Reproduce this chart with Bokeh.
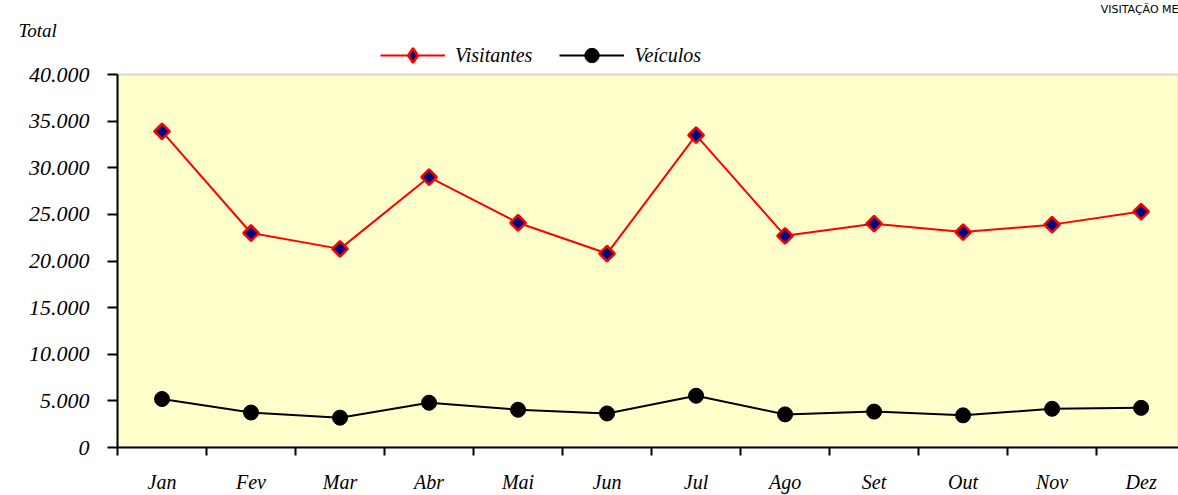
import math
from bokeh.plotting import figure
from bokeh.models import Range1d, FixedTicker, Legend, LegendItem, Title, ColumnDataSource, BoxAnnotation
from bokeh.embed import file_html
from bokeh.resources import INLINE

months = ["Jan", "Fev", "Mar", "Abr", "Mai", "Jun", "Jul", "Ago", "Set", "Out", "Nov", "Dez"]
visitantes = [33900, 23000, 21300, 29000, 24100, 20800, 33500, 22700, 24000, 23100, 23900, 25300]
veiculos = [5200, 3750, 3200, 4800, 4050, 3650, 5550, 3550, 3850, 3450, 4150, 4250]
y_ticks = [0, 5000, 10000, 15000, 20000, 25000, 30000, 35000, 40000]
y_tick_labels = ["0", "5.000", "10.000", "15.000", "20.000", "25.000", "30.000", "35.000", "40.000"]

idx = list(range(len(months)))
src = ColumnDataSource(dict(x=idx, vis=visitantes, vei=veiculos, m=months))

SERIF = "Liberation Serif"
TOP = 42          # frame top (px)
AX_BOTTOM = 447   # frame bottom (px)
Y40 = 74          # pixel row of the 40.000 line
y_end = y_ticks[-1] * (AX_BOTTOM - TOP) / (AX_BOTTOM - Y40)

p = figure(width=1178, height=495, output_backend="svg", toolbar_location=None,
           title_location=None,
           x_range=Range1d(-0.5, 11.42), y_range=Range1d(0, y_end),
           min_border_left=117, min_border_right=0, min_border_top=TOP, min_border_bottom=48)
p.background_fill_color = "white"
p.border_fill_color = "white"
p.outline_line_color = None

p.add_layout(BoxAnnotation(left=-0.5, bottom=y_ticks[0], top=y_ticks[-1],
                           fill_color="#FFFFCC", fill_alpha=1,
                           line_color="#808080", line_width=2, level="underlay"))

# y axis
p.yaxis.bounds = (y_ticks[0], y_ticks[-1])
p.yaxis.ticker = FixedTicker(ticks=y_ticks)
p.yaxis.major_label_overrides = {t: l for t, l in zip(y_ticks, y_tick_labels)}
p.yaxis.axis_line_color = "black"
p.yaxis.axis_line_width = 2
p.yaxis.major_tick_out = 10
p.yaxis.major_tick_in = 0
p.yaxis.major_tick_line_width = 2
p.yaxis.minor_tick_line_color = None
p.yaxis.major_label_standoff = 18
p.yaxis.major_label_text_font = SERIF
p.yaxis.major_label_text_font_style = "italic"
p.yaxis.major_label_text_font_size = "22px"
p.yaxis.major_label_text_color = "black"

# x axis
p.xaxis.ticker = FixedTicker(ticks=idx, minor_ticks=[i - 0.5 for i in range(len(months) + 1)])
p.xaxis.major_label_overrides = {i: m for i, m in zip(idx, months)}
p.xaxis.axis_line_color = "black"
p.xaxis.axis_line_width = 2
p.xaxis.major_tick_out = 0
p.xaxis.major_tick_in = 0
p.xaxis.minor_tick_out = 8
p.xaxis.minor_tick_in = 0
p.xaxis.minor_tick_line_width = 2
p.xaxis.minor_tick_line_color = "black"
p.xaxis.major_label_standoff = 15
p.xaxis.major_label_text_font = SERIF
p.xaxis.major_label_text_font_style = "italic"
p.xaxis.major_label_text_font_size = "20px"
p.xaxis.major_label_text_color = "black"

p.xgrid.grid_line_color = None
p.ygrid.ticker = FixedTicker(ticks=y_ticks[1:-1])
p.ygrid.grid_line_color = "black"
p.ygrid.grid_line_width = 2

# series
l1 = p.line("x", "vis", source=src, line_color="red", line_width=2)
d1 = p.scatter("x", "vis", source=src, marker="diamond", size=12, fill_color="#000080",
               line_color="red", line_width=2.5)
s1 = p.scatter("x", "vis", source=src, marker="square", angle=math.pi / 4, size=11,
               fill_color="#000080", line_color="red", line_width=2.5)
l2 = p.line("x", "vei", source=src, line_color="black", line_width=2)
s2 = p.scatter("x", "vei", source=src, marker="circle", size=15, fill_color="black",
               line_color="black")

legend = Legend(items=[LegendItem(label="Visitantes", renderers=[l1, d1]),
                       LegendItem(label="Veículos", renderers=[l2, s2])],
                orientation="horizontal", location=(263, 374),
                glyph_width=65, glyph_height=36, label_standoff=10, spacing=27,
                padding=0, margin=0, border_line_color=None, background_fill_alpha=0,
                label_text_font=SERIF, label_text_font_style="italic",
                label_text_font_size="20px", label_text_color="black")
p.add_layout(legend)

p.add_layout(Title(text="Total", align="left", offset=-99, standoff=4,
                   text_font=SERIF, text_font_style="italic", text_font_size="19px",
                   text_color="black"), "above")
p.add_layout(Title(text="VISITAÇÃO ME", align="right", standoff=0,
                   text_font="DejaVu Sans", text_font_style="normal", text_font_size="11px",
                   text_color="black"), "above")

open("out.html", "w").write(file_html(p, INLINE))
